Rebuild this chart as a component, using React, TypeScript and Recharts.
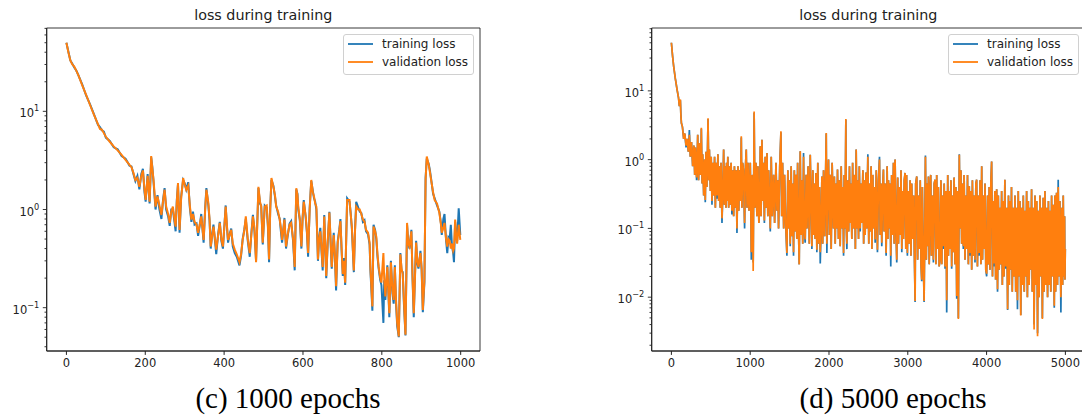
import { LineChart, Line, XAxis, YAxis, ReferenceArea, Legend } from "recharts"

const BLUE = "#1f77b4"
const ORANGE = "#ff7f0e"
const INK = "#222"
const SANS = "DejaVu Sans"

// (c) 1000 epochs
const epochsC = [
  0, 5, 10, 15, 20, 25, 30, 40, 50, 60,
  70, 80, 85, 90, 95, 100, 110, 120, 130, 140,
  150, 160, 165, 170, 175, 180, 185, 190, 194, 198,
  201, 206, 211, 215, 218, 221, 226, 231, 236, 241,
  245, 249, 253, 258, 262, 266, 270, 274, 277, 280,
  283, 287, 291, 296, 300, 304, 309, 313, 317, 321,
  325, 330, 334, 338, 342, 348, 352, 355, 360, 363,
  366, 370, 373, 377, 380, 385, 389, 393, 397, 401,
  404, 407, 410, 414, 418, 422, 427, 432, 439, 443,
  447, 451, 455, 460, 465, 469, 473, 477, 481, 487,
  491, 494, 498, 503, 508, 511, 514, 517, 520, 525,
  529, 532, 537, 541, 544, 547, 550, 553, 557, 561,
  566, 570, 575, 579, 583, 586, 588, 592, 596, 599,
  602, 607, 610, 613, 617, 621, 625, 628, 631, 634,
  638, 641, 644, 647, 650, 654, 659, 663, 667, 670,
  673, 678, 681, 684, 688, 692, 695, 698, 701, 704,
  707, 712, 718, 721, 724, 729, 732, 735, 740, 744,
  748, 752, 756, 760, 765, 769, 771, 774, 776, 779,
  783, 786, 789, 792, 796, 799, 804, 806, 809, 814,
  819, 823, 827, 830, 833, 836, 839, 843, 847, 850,
  853, 856, 860, 864, 867, 870, 875, 878, 881, 884,
  887, 890, 893, 898, 901, 904, 908, 911, 914, 919,
  922, 925, 930, 934, 940, 946, 950, 952, 956, 959,
  963, 966, 969, 972, 975, 978, 981, 983, 986, 989,
  991, 995, 999,
]
const trainC = [
  50, 40.5, 33, 30.5, 28, 26, 23.5, 18.8, 14.5, 11.8,
  9.3, 7.3, 6.9, 6.4, 6.2, 5.4, 5.0, 4.3, 4.1, 3.5,
  3.3, 2.8, 2.75, 2.3, 1.95, 2.2, 1.6, 2.3, 2.6, 1.5,
  1.2, 2.3, 1.15, 3.4, 2.7, 1.9, 1.0, 1.4, 1.0, 0.8,
  1.25, 1.65, 1.0, 0.85, 0.68, 1.0, 1.0, 0.75, 0.6, 1.25,
  1.8, 0.58, 1.35, 2.0, 1.85, 1.6, 1.9, 1.05, 0.75, 0.95,
  0.7, 0.72, 0.54, 0.68, 0.9, 0.46, 1.05, 1.65, 1.1, 0.78,
  0.4, 0.58, 0.7, 0.47, 0.35, 0.57, 0.75, 0.48, 0.4, 0.72,
  1.1, 0.68, 0.46, 0.56, 0.64, 0.42, 0.36, 0.33, 0.27, 0.34,
  0.5, 0.62, 0.8, 0.48, 0.33, 0.57, 0.88, 0.6, 0.3, 1.65,
  1.15, 1.1, 0.44, 1.1, 1.05, 0.68, 0.29, 1.05, 2.0, 1.75,
  1.35, 1.1, 0.9, 0.8, 0.6, 0.46, 0.62, 0.82, 0.4, 0.53,
  0.72, 0.76, 0.47, 0.24, 1.6, 1.45, 1.0, 0.78, 0.4, 0.82,
  1.25, 0.82, 0.58, 0.33, 1.05, 1.95, 1.55, 1.3, 1.2, 1.0,
  0.3, 0.52, 0.65, 0.38, 0.24, 0.88, 0.2, 0.48, 0.95, 0.47,
  0.25, 0.58, 0.33, 0.15, 0.47, 0.62, 0.8, 0.38, 0.21, 0.32,
  0.17, 1.3, 1.2, 0.92, 0.64, 0.23, 0.62, 1.2, 1.05, 0.95,
  0.92, 0.75, 0.78, 0.6, 0.56, 0.44, 0.24, 0.14, 0.093, 0.7,
  0.62, 0.5, 0.33, 0.25, 0.19, 0.17, 0.07, 0.19, 0.12, 0.27,
  0.08, 0.3, 0.14, 0.11, 0.27, 0.11, 0.065, 0.05, 0.36, 0.24,
  0.23, 0.11, 0.052, 0.7, 0.47, 0.4, 0.62, 0.19, 0.08, 0.21,
  0.48, 0.28, 0.25, 0.38, 0.24, 0.09, 0.18, 2.1, 3.3, 2.9,
  2.5, 2.05, 1.45, 1.3, 1.1, 0.95, 0.72, 0.55, 0.8, 0.9,
  0.48, 0.36, 0.52, 0.5, 0.7, 0.42, 0.36, 0.29, 0.75, 0.52,
  0.48, 1.03, 0.55,
]
const valC = [
  50, 40, 33, 30, 28.5, 26, 23.5, 18.5, 14.7, 11.6,
  9.2, 7.4, 6.6, 6.5, 6.0, 5.5, 4.9, 4.4, 4.0, 3.6,
  3.2, 2.85, 2.7, 2.36, 2.0, 2.1, 1.7, 2.2, 2.5, 1.6,
  1.25, 2.2, 1.2, 3.5, 2.6, 2.0, 1.07, 1.36, 1.1, 0.88,
  1.2, 1.59, 1.07, 0.9, 0.73, 0.95, 1.07, 0.8, 0.67, 1.2,
  1.86, 0.62, 1.3, 2.09, 1.8, 1.59, 1.75, 1.1, 0.79, 0.9,
  0.75, 0.7, 0.58, 0.7, 0.85, 0.49, 1.0, 1.59, 1.17, 0.8,
  0.42, 0.55, 0.67, 0.5, 0.39, 0.55, 0.73, 0.5, 0.42, 0.7,
  1.07, 0.7, 0.49, 0.55, 0.62, 0.45, 0.39, 0.35, 0.29, 0.35,
  0.49, 0.6, 0.85, 0.5, 0.36, 0.55, 0.85, 0.65, 0.29, 1.7,
  1.2, 1.07, 0.46, 1.07, 1.1, 0.7, 0.31, 1.0, 2.09, 1.7,
  1.4, 1.07, 0.95, 0.79, 0.65, 0.49, 0.6, 0.79, 0.42, 0.55,
  0.7, 0.73, 0.5, 0.26, 1.65, 1.4, 1.07, 0.8, 0.42, 0.8,
  1.2, 0.85, 0.6, 0.36, 1.0, 2.0, 1.5, 1.36, 1.15, 1.07,
  0.31, 0.5, 0.6, 0.4, 0.26, 0.85, 0.21, 0.5, 0.93, 0.5,
  0.26, 0.55, 0.35, 0.165, 0.45, 0.6, 0.76, 0.4, 0.22, 0.3,
  0.18, 1.25, 1.25, 0.9, 0.67, 0.24, 0.6, 1.07, 1.0, 1.0,
  0.9, 0.79, 0.75, 0.62, 0.58, 0.46, 0.26, 0.15, 0.103, 0.67,
  0.6, 0.53, 0.35, 0.26, 0.2, 0.18, 0.36, 0.2, 0.13, 0.26,
  0.088, 0.29, 0.15, 0.12, 0.26, 0.12, 0.07, 0.051, 0.35, 0.25,
  0.22, 0.12, 0.053, 0.73, 0.45, 0.42, 0.6, 0.2, 0.088, 0.2,
  0.46, 0.3, 0.26, 0.36, 0.25, 0.095, 0.19, 2.0, 3.46, 2.85,
  2.4, 2.0, 1.5, 1.25, 1.15, 0.92, 0.7, 0.58, 0.65, 0.73,
  0.5, 0.42, 0.5, 0.48, 0.4, 0.45, 0.38, 0.4, 0.79, 0.5,
  0.45, 0.7, 0.49,
]

// (d) 5000 epochs
const epochsD = [
  0, 15, 29, 50, 72, 90, 101, 114, 120, 127,
  140, 156, 170, 186, 200, 215, 228, 240, 255, 270,
  285, 296, 304, 320, 334, 345, 359, 370, 380, 390,
  397, 410, 422, 430, 439, 450, 465, 475, 482, 495,
  505, 515, 525, 537, 548, 558, 568, 579, 590, 600,
  608, 620, 630, 642, 652, 663, 673, 683, 693, 700,
  706, 716, 727, 737, 748, 758, 768, 780, 790, 800,
  811, 822, 832, 845, 855, 862, 875, 887, 895, 904,
  915, 929, 940, 950, 960, 972, 985, 1001, 1008, 1014,
  1022, 1031, 1038, 1050, 1060, 1073, 1085, 1098, 1110, 1120,
  1128, 1138, 1149, 1160, 1170, 1180, 1191, 1202, 1213, 1224,
  1234, 1245, 1255, 1267, 1280, 1297, 1310, 1327, 1340, 1350,
  1360, 1375, 1390, 1400, 1411, 1425, 1436, 1450, 1466, 1478,
  1487, 1497, 1508, 1520, 1529, 1540, 1550, 1560, 1571, 1580,
  1592, 1602, 1613, 1622, 1635, 1645, 1656, 1667, 1677, 1688,
  1698, 1710, 1720, 1735, 1750, 1762, 1772, 1783, 1795, 1805,
  1815, 1825, 1835, 1846, 1858, 1870, 1880, 1889, 1900, 1910,
  1920, 1931, 1945, 1955, 1965, 1973, 1985, 1994, 2005, 2015,
  2028, 2040, 2057, 2068, 2079, 2090, 2100, 2108, 2120, 2130,
  2142, 2155, 2165, 2176, 2185, 2193, 2203, 2214, 2220, 2227,
  2240, 2250, 2260, 2270, 2277, 2290, 2300, 2311, 2325, 2335,
  2345, 2355, 2362, 2375, 2385, 2396, 2406, 2417, 2430, 2440,
  2450, 2459, 2470, 2480, 2493, 2505, 2515, 2522, 2535, 2545,
  2556, 2565, 2576, 2586, 2600, 2615, 2628, 2641, 2650, 2660,
  2670, 2680, 2691, 2700, 2712, 2725, 2738, 2747, 2755, 2765,
  2775, 2784, 2795, 2805, 2818, 2828, 2839, 2850, 2860, 2872,
  2882, 2894, 2905, 2914, 2924, 2935, 2945, 2955, 2966, 2975,
  2985, 2995, 3005, 3018, 3029, 3040, 3050, 3063, 3075, 3083,
  3093, 3100, 3114, 3125, 3136, 3148, 3158, 3168, 3177, 3185,
  3195, 3207, 3224, 3235, 3245, 3255, 3262, 3272, 3282, 3291,
  3300, 3312, 3325, 3335, 3346, 3357, 3367, 3377, 3388, 3398,
  3409, 3420, 3431, 3440, 3452, 3462, 3473, 3485, 3494, 3507,
  3516, 3526, 3536, 3547, 3557, 3568, 3578, 3588, 3600, 3610,
  3621, 3632, 3642, 3654, 3663, 3674, 3684, 3695, 3705, 3715,
  3726, 3737, 3747, 3758, 3769, 3780, 3790, 3800, 3811, 3820,
  3832, 3842, 3853, 3864, 3874, 3884, 3895, 3905, 3917, 3928,
  3938, 3948, 3959, 3970, 3980, 3990, 4001, 4012, 4022, 4033,
  4043, 4054, 4064, 4075, 4085, 4095, 4105, 4115, 4128, 4139,
  4149, 4160, 4170, 4180, 4191, 4200, 4210, 4221, 4232, 4242,
  4255, 4267, 4278, 4288, 4297, 4306, 4316, 4326, 4336, 4347,
  4360, 4370, 4381, 4392, 4402, 4412, 4423, 4434, 4445, 4456,
  4466, 4478, 4487, 4498, 4508, 4518, 4530, 4540, 4550, 4560,
  4571, 4580, 4592, 4603, 4614, 4625, 4636, 4647, 4656, 4666,
  4677, 4688, 4698, 4708, 4719, 4730, 4740, 4750, 4762, 4774,
  4785, 4795, 4804, 4815, 4825, 4835, 4847, 4859, 4868, 4876,
  4888, 4900, 4909, 4920, 4930, 4943, 4955, 4965, 4973, 4981,
  4990, 4994, 4999,
]
const trainD = [
  50, 32, 22.6, 15, 10.4, 8, 6.0, 7.3, 4.6, 3.4,
  3.0, 2.0, 2.4, 1.5, 2.0, 1.3, 2.7, 1.1, 1.8, 0.8,
  1.6, 0.6, 1.5, 0.5, 2.3, 0.5, 1.75, 0.6, 2.8, 0.45,
  1.2, 0.3, 1.0, 0.24, 1.3, 0.4, 3.9, 0.5, 1.4, 0.35,
  1.1, 0.22, 0.9, 0.3, 1.1, 0.2, 0.9, 0.27, 1.2, 0.25,
  0.8, 0.2, 0.9, 0.12, 0.3, 1.4, 0.22, 0.8, 0.2, 0.9,
  0.25, 1.1, 0.2, 0.8, 0.22, 0.9, 0.16, 0.7, 0.15, 0.8,
  0.2, 0.7, 0.086, 0.8, 0.18, 0.7, 0.25, 2.1, 0.2, 0.9,
  0.7, 0.1, 0.8, 1.4, 0.2, 0.9, 0.18, 0.9, 0.2, 0.035,
  0.6, 0.2, 0.032, 4.8, 0.2, 0.9, 0.15, 0.8, 0.12, 0.2,
  1.56, 0.15, 1.95, 0.25, 0.9, 0.12, 1.1, 0.2, 1.25, 0.15,
  0.7, 0.25, 0.09, 1.1, 0.15, 0.6, 0.12, 0.9, 0.18, 0.5,
  0.1, 0.8, 2.5, 0.15, 0.9, 0.1, 0.6, 0.12, 0.04, 0.7,
  0.1, 0.5, 0.055, 0.8, 0.077, 0.45, 0.04, 0.7, 0.09, 0.6,
  0.07, 0.9, 0.1, 0.03, 1.32, 0.08, 0.5, 0.06, 1.25, 0.09,
  0.062, 0.6, 0.1, 0.8, 0.06, 1.18, 0.3, 0.05, 0.7, 0.08,
  0.45, 0.07, 0.64, 0.045, 0.9, 0.06, 0.4, 0.031, 0.1, 0.57,
  0.06, 0.7, 0.077, 0.45, 2.4, 0.044, 0.5, 1.0, 0.08, 0.6,
  0.05, 0.9, 0.1, 0.57, 0.06, 0.45, 0.1, 0.72, 0.07, 0.5,
  0.055, 0.8, 0.1, 0.4, 0.04, 0.6, 0.1, 3.8, 0.1, 0.05,
  0.5, 0.09, 0.8, 0.12, 0.45, 0.07, 0.9, 0.1, 0.6, 0.05,
  1.4, 0.1, 0.5, 0.07, 0.8, 0.09, 0.45, 0.12, 0.7, 0.06,
  0.5, 0.08, 0.65, 0.1, 1.2, 0.06, 0.45, 0.09, 0.8, 0.05,
  0.6, 0.1, 0.4, 0.062, 0.7, 0.045, 0.5, 1.1, 0.08, 0.45,
  0.055, 0.35, 0.72, 0.09, 0.45, 0.04, 0.8, 0.07, 0.5, 0.1,
  0.45, 0.028, 0.6, 0.08, 0.9, 0.06, 1.0, 0.1, 0.032, 0.55,
  0.06, 0.4, 0.08, 0.7, 0.045, 0.35, 0.07, 0.5, 0.64, 0.05,
  0.6, 0.04, 0.35, 0.06, 0.5, 0.04, 0.45, 0.07, 0.3, 0.045,
  0.0085, 0.45, 0.57, 0.035, 0.3, 0.05, 0.5, 0.03, 0.017, 0.4,
  0.05, 0.0085, 1.15, 0.035, 0.45, 0.055, 0.57, 0.03, 0.35, 0.6,
  0.04, 0.3, 0.032, 0.45, 0.51, 0.03, 0.6, 0.05, 0.4, 0.028,
  0.035, 0.5, 0.03, 0.3, 0.05, 0.45, 0.026, 0.35, 0.006, 0.6,
  0.04, 0.35, 0.05, 0.5, 0.026, 0.3, 0.045, 0.55, 0.03, 0.4,
  0.0095, 0.35, 0.005, 1.2, 0.1, 0.7, 0.06, 0.45, 0.05, 0.6,
  0.035, 0.3, 0.05, 0.6, 0.03, 0.41, 0.04, 0.35, 0.025, 0.5,
  0.04, 0.3, 0.032, 0.45, 0.51, 0.028, 0.3, 0.04, 0.5, 0.03,
  0.8, 0.035, 0.3, 0.05, 0.45, 0.025, 0.02, 0.3, 0.03, 0.4,
  0.025, 0.45, 0.94, 0.02, 0.25, 0.028, 0.35, 0.018, 0.37, 0.012,
  0.3, 0.025, 0.2, 0.03, 0.35, 0.015, 0.25, 0.02, 0.51, 0.026,
  0.2, 0.0065, 0.3, 0.015, 0.25, 0.025, 0.4, 0.012, 0.2, 0.02,
  0.3, 0.012, 0.2, 0.0067, 0.35, 0.02, 0.25, 0.0055, 0.2, 0.015,
  0.3, 0.012, 0.18, 0.02, 0.35, 0.01, 0.25, 0.015, 0.2, 0.025,
  0.37, 0.012, 0.2, 0.004, 0.3, 0.015, 0.25, 0.003, 0.18, 0.01,
  0.3, 0.02, 0.2, 0.005, 0.28, 0.012, 0.35, 0.015, 0.2, 0.01,
  0.25, 0.015, 0.18, 0.012, 0.3, 0.02, 0.22, 0.007, 0.3, 0.012,
  0.33, 0.015, 0.51, 0.02, 0.25, 0.006, 0.2, 0.015, 0.3, 0.02,
  0.15, 0.018, 0.05,
]
const valD = [
  50, 32, 22.6, 15, 10.4, 8, 6.0, 7.5, 4.5, 3.4,
  3.0, 2.0, 2.4, 1.6, 2.0, 1.3, 2.3, 1.1, 1.8, 0.8,
  1.6, 0.6, 1.5, 0.55, 2.3, 0.5, 1.75, 0.6, 2.9, 0.45,
  1.2, 0.3, 1.0, 0.26, 1.3, 0.4, 4.0, 0.5, 1.4, 0.35,
  1.1, 0.25, 0.9, 0.3, 1.1, 0.2, 0.9, 0.3, 1.2, 0.25,
  0.8, 0.2, 0.9, 0.14, 0.3, 1.4, 0.22, 0.8, 0.2, 0.9,
  0.25, 1.1, 0.2, 0.8, 0.22, 0.9, 0.18, 0.7, 0.15, 0.8,
  0.2, 0.7, 0.1, 0.8, 0.18, 0.7, 0.25, 2.18, 0.2, 0.9,
  0.7, 0.12, 0.8, 1.4, 0.2, 0.9, 0.18, 0.9, 0.2, 0.045,
  0.6, 0.2, 0.024, 5.0, 0.2, 0.9, 0.15, 0.8, 0.12, 0.2,
  1.56, 0.15, 1.95, 0.25, 0.9, 0.13, 1.1, 0.2, 1.25, 0.15,
  0.7, 0.25, 0.1, 1.1, 0.15, 0.6, 0.12, 0.9, 0.18, 0.5,
  0.1, 0.8, 2.58, 0.15, 0.9, 0.1, 0.6, 0.12, 0.044, 0.7,
  0.1, 0.5, 0.06, 0.8, 0.077, 0.45, 0.045, 0.7, 0.09, 0.6,
  0.07, 0.9, 0.1, 0.03, 1.32, 0.08, 0.5, 0.06, 1.1, 0.09,
  0.069, 0.6, 0.1, 0.8, 0.06, 1.18, 0.3, 0.055, 0.7, 0.08,
  0.45, 0.07, 0.64, 0.049, 0.9, 0.06, 0.4, 0.045, 0.1, 0.57,
  0.06, 0.7, 0.077, 0.45, 2.44, 0.06, 0.5, 1.0, 0.08, 0.6,
  0.05, 0.9, 0.1, 0.57, 0.06, 0.45, 0.1, 0.72, 0.07, 0.5,
  0.055, 0.8, 0.1, 0.4, 0.044, 0.6, 0.1, 3.9, 0.1, 0.06,
  0.5, 0.09, 0.8, 0.12, 0.45, 0.07, 0.9, 0.1, 0.6, 0.05,
  1.4, 0.1, 0.5, 0.07, 0.8, 0.1, 0.45, 0.12, 0.7, 0.06,
  0.5, 0.08, 0.65, 0.1, 1.1, 0.06, 0.45, 0.09, 0.8, 0.05,
  0.6, 0.1, 0.4, 0.069, 0.7, 0.049, 0.5, 1.0, 0.08, 0.45,
  0.062, 0.35, 0.72, 0.09, 0.45, 0.044, 0.8, 0.07, 0.5, 0.1,
  0.45, 0.04, 0.6, 0.08, 0.9, 0.06, 1.0, 0.1, 0.035, 0.55,
  0.06, 0.4, 0.08, 0.7, 0.05, 0.35, 0.07, 0.5, 0.64, 0.05,
  0.6, 0.044, 0.35, 0.06, 0.5, 0.04, 0.45, 0.07, 0.3, 0.05,
  0.0088, 0.45, 0.57, 0.035, 0.3, 0.05, 0.5, 0.03, 0.018, 0.4,
  0.05, 0.0088, 1.1, 0.035, 0.45, 0.055, 0.57, 0.03, 0.35, 0.6,
  0.04, 0.3, 0.035, 0.45, 0.51, 0.03, 0.6, 0.05, 0.4, 0.028,
  0.035, 0.5, 0.03, 0.3, 0.055, 0.45, 0.028, 0.35, 0.009, 0.6,
  0.04, 0.35, 0.05, 0.5, 0.028, 0.3, 0.045, 0.55, 0.03, 0.4,
  0.0104, 0.35, 0.0048, 1.18, 0.1, 0.7, 0.06, 0.45, 0.055, 0.6,
  0.035, 0.3, 0.05, 0.6, 0.03, 0.41, 0.044, 0.35, 0.025, 0.5,
  0.04, 0.3, 0.035, 0.45, 0.51, 0.028, 0.3, 0.044, 0.5, 0.03,
  0.8, 0.035, 0.3, 0.05, 0.45, 0.025, 0.022, 0.3, 0.03, 0.4,
  0.025, 0.45, 0.94, 0.02, 0.25, 0.031, 0.35, 0.018, 0.37, 0.013,
  0.3, 0.025, 0.2, 0.03, 0.35, 0.015, 0.25, 0.02, 0.51, 0.028,
  0.2, 0.0067, 0.3, 0.015, 0.25, 0.025, 0.4, 0.012, 0.2, 0.02,
  0.3, 0.012, 0.2, 0.009, 0.35, 0.02, 0.25, 0.0054, 0.2, 0.015,
  0.3, 0.012, 0.18, 0.02, 0.35, 0.01, 0.25, 0.015, 0.2, 0.025,
  0.37, 0.012, 0.2, 0.0034, 0.3, 0.015, 0.25, 0.0027, 0.18, 0.01,
  0.3, 0.02, 0.2, 0.0048, 0.28, 0.012, 0.35, 0.015, 0.2, 0.01,
  0.25, 0.015, 0.18, 0.012, 0.3, 0.02, 0.22, 0.0075, 0.3, 0.012,
  0.33, 0.015, 0.4, 0.02, 0.25, 0.01, 0.2, 0.015, 0.3, 0.02,
  0.15, 0.018, 0.05,
]

const xTicksC = [0, 200, 400, 600, 800, 1000]
const xTicksD = [0, 1000, 2000, 3000, 4000, 5000]
const yTicksC = [
  0.04, 0.05, 0.06, 0.07, 0.08, 0.09, 0.1, 0.2, 0.3, 0.4, 0.5, 0.6, 0.7, 0.8, 0.9,
  1, 2, 3, 4, 5, 6, 7, 8, 9, 10, 20, 30, 40, 50, 60, 70,
]
const yTicksD = [
  0.002, 0.003, 0.004, 0.005, 0.006, 0.007, 0.008, 0.009, 0.01,
  0.02, 0.03, 0.04, 0.05, 0.06, 0.07, 0.08, 0.09, 0.1, 0.2, 0.3, 0.4, 0.5, 0.6, 0.7, 0.8, 0.9,
  1, 2, 3, 4, 5, 6, 7, 8, 9, 10, 20, 30, 40, 50, 60, 70, 80,
]

function LogTick(props: any) {
  const { x, y, payload } = props
  const lg = Math.log10(payload.value)
  const exp = Math.round(lg)
  const major = Math.abs(lg - exp) < 1e-6
  const len = major ? 3.9 : 2.2
  return (
    <g>
      <line x1={x - len} x2={x} y1={y} y2={y} stroke={INK} strokeWidth={0.9} />
      {major && (
        <text x={x - len - 3.5} y={y + 2} textAnchor="end" dominantBaseline="central" fontSize={11.5} fill={INK} fontFamily={SANS}>
          10
          <tspan dy={-5} fontSize={8.2}>{exp < 0 ? `\u2212${-exp}` : `${exp}`}</tspan>
        </text>
      )}
    </g>
  )
}

function LegendBox() {
  return (
    <svg width={131} height={41} style={{ display: "block" }}>
      <rect x={0.5} y={0.5} width={130} height={40} rx={2.5} fill="rgba(255,255,255,0.8)" stroke="#d0d0d0" />
      <line x1={5} x2={30} y1={10} y2={10} stroke={BLUE} strokeWidth={1.8} />
      <text x={39} y={10} dominantBaseline="central" fontSize={12} fill={INK} fontFamily={SANS}>training loss</text>
      <line x1={5} x2={30} y1={28} y2={28} stroke={ORANGE} strokeWidth={1.8} />
      <text x={39} y={28} dominantBaseline="central" fontSize={12} fill={INK} fontFamily={SANS}>validation loss</text>
    </svg>
  )
}

interface PanelProps {
  epochs: number[]
  train: number[]
  val: number[]
  xDomain: [number, number]
  yDomain: [number, number]
  xTicks: number[]
  yTicks: number[]
  yAxisWidth: number
  marginRight: number
  legendLeft: number
  lineWidth: number
}

function LossPanel({ epochs, train, val, xDomain, yDomain, xTicks, yTicks, yAxisWidth, marginRight, legendLeft, lineWidth }: PanelProps) {
  const rows = epochs.map((e, i) => ({ epoch: e, train: train[i], val: val[i] }))
  return (
    <LineChart width={500} height={380} data={rows} margin={{ top: 28, right: marginRight, bottom: 0, left: 0 }}>
      <XAxis
        dataKey="epoch"
        type="number"
        domain={xDomain}
        allowDataOverflow
        ticks={xTicks}
        interval={0}
        height={29}
        tickSize={3.9}
        tickMargin={3.5}
        stroke={INK}
        tick={{ fontSize: 11.5, fill: INK, fontFamily: SANS }}
      />
      <YAxis
        type="number"
        scale="log"
        domain={yDomain}
        allowDataOverflow
        ticks={yTicks}
        interval={0}
        width={yAxisWidth}
        tickSize={0}
        tickMargin={0}
        tickLine={false}
        stroke={INK}
        tick={(p: any) => <LogTick {...p} />}
      />
      <ReferenceArea x1={xDomain[0]} x2={xDomain[1]} y1={yDomain[0]} y2={yDomain[1]} fill="none" stroke={INK} strokeWidth={0.9} ifOverflow="visible" />
      <Line type="linear" dataKey="train" name="training loss" stroke={BLUE} strokeWidth={lineWidth} dot={false} isAnimationActive={false} />
      <Line type="linear" dataKey="val" name="validation loss" stroke={ORANGE} strokeWidth={lineWidth} dot={false} isAnimationActive={false} />
      <Legend
        layout="horizontal"
        verticalAlign="middle"
        align="center"
        wrapperStyle={{ left: legendLeft, top: 34, width: 131, height: 41 }}
        content={() => <LegendBox />}
      />
    </LineChart>
  )
}

export default function App() {
  return (
    <div style={{ position: "absolute", left: 0, top: 0, width: 1082, height: 416, overflow: "hidden", background: "#fff" }}>
      <div style={{ position: "absolute", left: 0, top: 0 }}>
        <LossPanel
          epochs={epochsC}
          train={trainC}
          val={valC}
          xDomain={[-50, 1049]}
          yDomain={[0.0362, 70.6]}
          xTicks={xTicksC}
          yTicks={yTicksC}
          yAxisWidth={46.7}
          marginRight={20}
          legendLeft={343}
          lineWidth={2}
        />
      </div>
      <div style={{ position: "absolute", left: 600, top: 0 }}>
        <LossPanel
          epochs={epochsD}
          train={trainD}
          val={valD}
          xDomain={[-250, 5249]}
          yDomain={[0.00165, 82]}
          xTicks={xTicksD}
          yTicks={yTicksD}
          yAxisWidth={51.7}
          marginRight={15}
          legendLeft={348.3}
          lineWidth={1.7}
        />
      </div>
      <svg width={1082} height={416} style={{ position: "absolute", left: 0, top: 0, pointerEvents: "none" }}>
        <text x={263.3} y={20} textAnchor="middle" fontSize={14.3} fill={INK} fontFamily={SANS}>loss during training</text>
        <text x={868.3} y={20} textAnchor="middle" fontSize={14.3} fill={INK} fontFamily={SANS}>loss during training</text>
        <text x={288} y={408} textAnchor="middle" fontSize={29} fill="#000" fontFamily="Liberation Serif">(c) 1000 epochs</text>
        <text x={893} y={408} textAnchor="middle" fontSize={29} fill="#000" fontFamily="Liberation Serif">(d) 5000 epochs</text>
      </svg>
    </div>
  )
}
